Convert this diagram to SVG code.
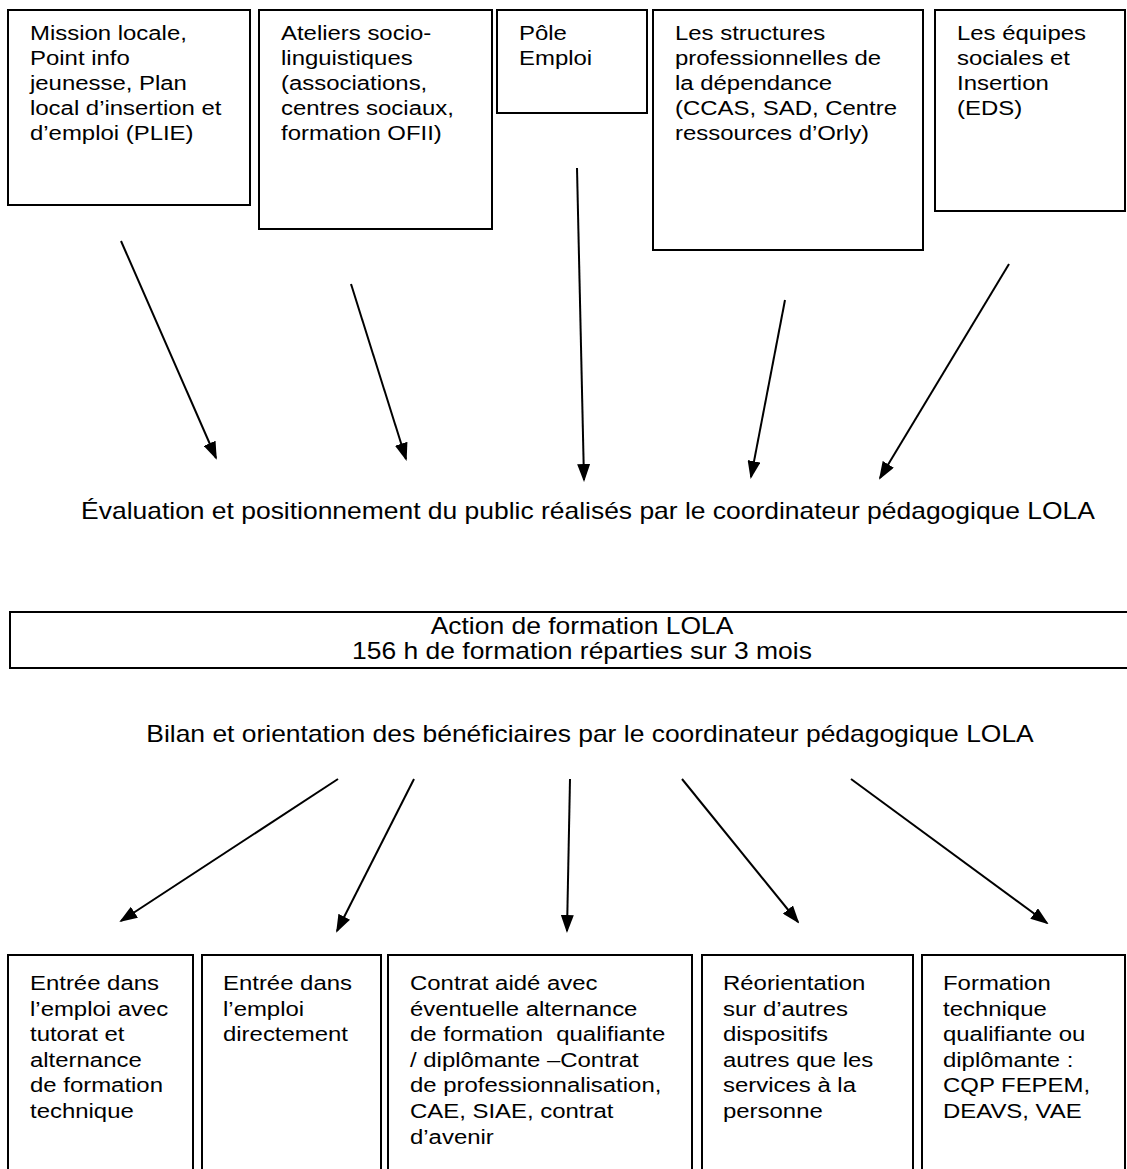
<svg xmlns="http://www.w3.org/2000/svg" width="1127" height="1169" viewBox="0 0 1127 1169">
<defs>
<style>
.box{fill:#fff;stroke:#000;stroke-width:2}
.t{font-family:"Liberation Sans",Arial,sans-serif;font-size:21px;fill:#000}
.h{font-family:"Liberation Sans",Arial,sans-serif;font-size:23px;fill:#000;text-anchor:middle}
.c{stroke:#000;stroke-width:2;fill:none;marker-end:url(#ah)}
</style>
<marker id="ah" markerUnits="userSpaceOnUse" markerWidth="18" markerHeight="13" refX="16" refY="6.5" orient="auto">
<path d="M0,0 L18,6.5 L0,13 z" fill="#000"/>
</marker>
</defs>
<rect width="1127" height="1169" fill="#fff"/>
<g id="n-mission">
<rect class="box" x="8" y="10" width="242" height="195"/>
<text class="t" transform="translate(30,40) scale(1.14,1)"><tspan x="0" y="0">Mission locale,</tspan><tspan x="0" y="25">Point info</tspan><tspan x="0" y="50">jeunesse, Plan</tspan><tspan x="0" y="75">local d’insertion et</tspan><tspan x="0" y="100">d’emploi (PLIE)</tspan></text>
</g>
<g id="n-ateliers">
<rect class="box" x="259" y="10" width="233" height="219"/>
<text class="t" transform="translate(281,40) scale(1.14,1)"><tspan x="0" y="0">Ateliers socio-</tspan><tspan x="0" y="25">linguistiques</tspan><tspan x="0" y="50">(associations,</tspan><tspan x="0" y="75">centres sociaux,</tspan><tspan x="0" y="100">formation OFII)</tspan></text>
</g>
<g id="n-pole">
<rect class="box" x="497" y="10" width="150" height="103"/>
<text class="t" transform="translate(519,40) scale(1.14,1)"><tspan x="0" y="0">Pôle</tspan><tspan x="0" y="25">Emploi</tspan></text>
</g>
<g id="n-structures">
<rect class="box" x="653" y="10" width="270" height="240"/>
<text class="t" transform="translate(675,40) scale(1.14,1)"><tspan x="0" y="0">Les structures</tspan><tspan x="0" y="25">professionnelles de</tspan><tspan x="0" y="50">la dépendance</tspan><tspan x="0" y="75">(CCAS, SAD, Centre</tspan><tspan x="0" y="100">ressources d’Orly)</tspan></text>
</g>
<g id="n-equipes">
<rect class="box" x="935" y="10" width="190" height="201"/>
<text class="t" transform="translate(957,40) scale(1.14,1)"><tspan x="0" y="0">Les équipes</tspan><tspan x="0" y="25">sociales et</tspan><tspan x="0" y="50">Insertion</tspan><tspan x="0" y="75">(EDS)</tspan></text>
</g>
<g id="n-evaluation">
<text class="h" transform="translate(588,519) scale(1.15,1)" x="0" y="0">Évaluation et positionnement du public réalisés par le coordinateur pédagogique LOLA</text>
</g>
<g id="n-action">
<rect class="box" x="10" y="612" width="1150" height="56"/>
<text class="h" transform="translate(582,634) scale(1.15,1)"><tspan x="0" y="0">Action de formation LOLA</tspan><tspan x="0" y="25">156 h de formation réparties sur 3 mois</tspan></text>
</g>
<g id="n-bilan">
<text class="h" transform="translate(590,742) scale(1.15,1)" x="0" y="0">Bilan et orientation des bénéficiaires par le coordinateur pédagogique LOLA</text>
</g>
<g id="n-emploi-tutorat">
<rect class="box" x="8" y="955" width="185" height="230"/>
<text class="t" transform="translate(30,990) scale(1.14,1)"><tspan x="0" y="0">Entrée dans</tspan><tspan x="0" y="25.6">l’emploi avec</tspan><tspan x="0" y="51.2">tutorat et</tspan><tspan x="0" y="76.8">alternance</tspan><tspan x="0" y="102.4">de formation</tspan><tspan x="0" y="128">technique</tspan></text>
</g>
<g id="n-emploi-direct">
<rect class="box" x="202" y="955" width="179" height="230"/>
<text class="t" transform="translate(223,990) scale(1.14,1)"><tspan x="0" y="0">Entrée dans</tspan><tspan x="0" y="25.6">l’emploi</tspan><tspan x="0" y="51.2">directement</tspan></text>
</g>
<g id="n-contrat">
<rect class="box" x="388" y="955" width="304" height="230"/>
<text class="t" transform="translate(410,990) scale(1.14,1)" xml:space="preserve"><tspan x="0" y="0">Contrat aidé avec</tspan><tspan x="0" y="25.6">éventuelle alternance</tspan><tspan x="0" y="51.2">de formation  qualifiante</tspan><tspan x="0" y="76.8">/ diplômante –Contrat</tspan><tspan x="0" y="102.4">de professionnalisation,</tspan><tspan x="0" y="128">CAE, SIAE, contrat</tspan><tspan x="0" y="153.6">d’avenir</tspan></text>
</g>
<g id="n-reorientation">
<rect class="box" x="702" y="955" width="211" height="230"/>
<text class="t" transform="translate(723,990) scale(1.14,1)"><tspan x="0" y="0">Réorientation</tspan><tspan x="0" y="25.6">sur d’autres</tspan><tspan x="0" y="51.2">dispositifs</tspan><tspan x="0" y="76.8">autres que les</tspan><tspan x="0" y="102.4">services à la</tspan><tspan x="0" y="128">personne</tspan></text>
</g>
<g id="n-formation">
<rect class="box" x="922" y="955" width="203" height="230"/>
<text class="t" transform="translate(943,990) scale(1.14,1)"><tspan x="0" y="0">Formation</tspan><tspan x="0" y="25.6">technique</tspan><tspan x="0" y="51.2">qualifiante ou</tspan><tspan x="0" y="76.8">diplômante :</tspan><tspan x="0" y="102.4">CQP FEPEM,</tspan><tspan x="0" y="128">DEAVS, VAE</tspan></text>
</g>
<g id="connectors">
<line class="c" x1="121" y1="241" x2="216" y2="458"/>
<line class="c" x1="351" y1="284" x2="406" y2="459"/>
<line class="c" x1="577" y1="168" x2="584" y2="480"/>
<line class="c" x1="785" y1="300" x2="751" y2="477"/>
<line class="c" x1="1009" y1="264" x2="880" y2="478"/>
<line class="c" x1="338" y1="779" x2="121" y2="921"/>
<line class="c" x1="414" y1="779" x2="337" y2="931"/>
<line class="c" x1="570" y1="779" x2="567" y2="931"/>
<line class="c" x1="682" y1="779" x2="798" y2="922"/>
<line class="c" x1="851" y1="779" x2="1047" y2="923"/>
</g>
</svg>
